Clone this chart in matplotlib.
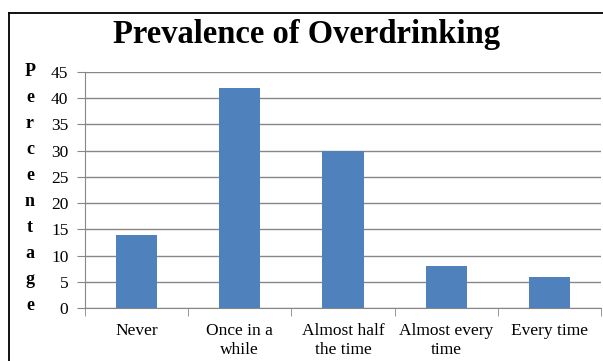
import matplotlib
matplotlib.use("Agg")
import matplotlib.pyplot as plt
from matplotlib.lines import Line2D

categories = ["Never", "Once in a\nwhile", "Almost half\nthe time", "Almost every\ntime", "Every time"]
values = [14, 42, 30, 8, 6]
yticks = [0, 5, 10, 15, 20, 25, 30, 35, 40, 45]
title = "Prevalence of Overdrinking"
ylabel = "Percentage"

plt.rcParams["font.family"] = ["Liberation Serif", "DejaVu Serif"]
grid_col = "#878787"
bar_col = "#4F81BD"

fig = plt.figure(figsize=(6.03, 3.61), dpi=100)
fig.patch.set_facecolor("white")

# outer chart frame (left and top edges)
fx, fy = 8.5 / 603, 1 - 12.5 / 361
fig.add_artist(Line2D([fx, fx], [0, fy], transform=fig.transFigure,
                      color="black", linewidth=1.3))
fig.add_artist(Line2D([fx, 1.02], [fy, fy], transform=fig.transFigure,
                      color="black", linewidth=1.3))

ax = fig.add_axes([85 / 603, 1 - 308 / 361, 516 / 603, 236 / 361])
x = list(range(len(categories)))
ax.bar(x, values, width=0.4, color=bar_col, zorder=3)

ax.set_xlim(-0.5, len(categories) - 0.5)
ax.set_ylim(0, 45)
ax.set_yticks(yticks)
ax.set_yticklabels([str(v) for v in yticks], fontsize=12.5)
ax.yaxis.grid(True, color=grid_col, linewidth=1.0, zorder=0)

ax.set_xticks(x)
ax.set_xticklabels(categories, fontsize=12.5, linespacing=1.25)
ax.tick_params(axis="x", length=0, pad=11)
ax.set_xticks([i - 0.5 for i in range(len(categories) + 1)], minor=True)
ax.tick_params(axis="x", which="minor", length=6, color=grid_col, direction="out")
ax.tick_params(axis="y", length=6, color=grid_col, pad=6)

for side in ["top", "right"]:
    ax.spines[side].set_visible(False)
for side in ["left", "bottom"]:
    ax.spines[side].set_color(grid_col)

fig.text(307 / 603, 1 - 34 / 361, title, ha="center", va="center",
         fontsize=23.5, fontweight="bold")

# stacked vertical axis label
top_y, bot_y = 72, 305
n = len(ylabel)
for i, ch in enumerate(ylabel):
    yy = top_y + (bot_y - top_y) * i / (n - 1)
    fig.text(30 / 603, 1 - yy / 361, ch, ha="center", va="center",
             fontsize=13, fontweight="bold")

fig.savefig("out.png", dpi=100)
